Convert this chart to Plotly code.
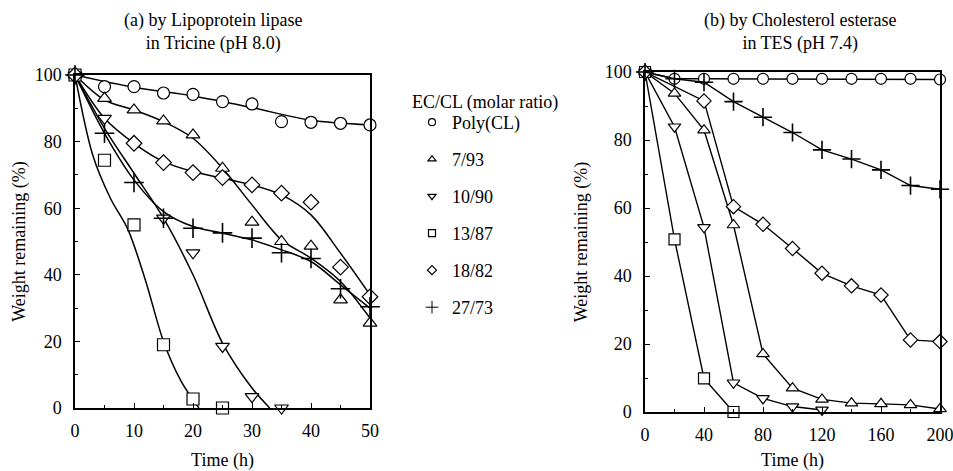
import plotly.graph_objects as go

# ---------------- Panel (a): Lipoprotein lipase, Tricine pH 8.0 ----------------
a_t_poly = [0, 5, 10, 15, 20, 25, 30, 35, 40, 45, 50]
a_w_poly = [100, 96.5, 96.5, 94.6, 94.2, 92, 91.3, 86, 85.8, 85.5, 85]
a_t_793 = [0, 5, 10, 15, 20, 25, 30, 35, 40, 45, 50]
a_w_793 = [100, 93, 89.5, 86.2, 82, 72, 55.8, 50, 48.6, 32.5, 25.5]
a_t_1090 = [0, 5, 15, 20, 25, 30, 35]
a_w_1090 = [100, 87, 57, 46.6, 18.5, 3.4, 0]
a_t_1387 = [0, 5, 10, 15, 20, 25]
a_w_1387 = [100, 74.4, 55, 19, 2.7, 0]
a_t_1882 = [0, 10, 15, 20, 25, 30, 35, 40, 45, 50]
a_w_1882 = [100, 79.5, 73.7, 70.7, 69.2, 67, 64.5, 61.8, 42.3, 33.4]
a_t_2773 = [0, 5, 10, 15, 20, 25, 30, 35, 40, 45, 50]
a_w_2773 = [100, 82.5, 67.7, 57, 54, 52.6, 51, 46.6, 44.9, 35.8, 30.4]

# fitted curves in panel (a)
fit_t_poly = [0, 10, 20, 30, 40, 50]
fit_w_poly = [100, 96.3, 93.7, 90.2, 86.4, 85]
fit_t_793 = [0, 5, 10, 15, 20, 25, 30, 35, 40, 45, 50]
fit_w_793 = [100, 92.5, 89.5, 86, 81, 72, 61, 50.5, 45, 38, 27]
fit_t_1090 = [0, 5, 10, 15, 20, 25, 30, 33]
fit_w_1090 = [100, 84, 70.5, 57, 40, 19.5, 6, 0]
fit_t_1387 = [0, 3, 6, 9, 12, 15, 18, 21]
fit_w_1387 = [100, 76, 63, 53.5, 38, 20, 8, 0]
fit_t_1882 = [0, 5, 10, 15, 20, 25, 30, 35, 40, 45, 50]
fit_w_1882 = [100, 87, 79.5, 74, 71, 69, 67, 64, 58, 46.5, 34]
fit_t_2773 = [0, 5, 10, 15, 20, 25, 30, 35, 40, 45, 50]
fit_w_2773 = [100, 82.5, 68.5, 59, 54.5, 52.5, 50.5, 47.5, 44, 37, 30]

# ---------------- Panel (b): Cholesterol esterase, TES pH 7.4 ----------------
b_t = [0, 20, 40, 60, 80, 100, 120, 140, 160, 180, 200]
b_w_poly = [100, 98, 98, 98, 98, 98, 98, 98, 98, 98, 97.8]
b_w_793 = [100, 93.7, 82.9, 55, 17.1, 7, 3.7, 2.6, 2.4, 2.1, 0.9]
b_t_1090 = [0, 20, 40, 60, 80, 100, 120]
b_w_1090 = [100, 83.9, 54.3, 8.6, 4, 1.6, 0.6]
b_t_1387 = [0, 20, 40, 60]
b_w_1387 = [100, 50.8, 9.9, 0]
b_t_1882 = [0, 40, 60, 80, 100, 120, 140, 160, 180, 200]
b_w_1882 = [100, 91.5, 60.4, 55.2, 48.1, 40.8, 37.1, 34.4, 21.2, 20.7]
b_w_2773 = [100, 98, 97, 91.3, 86.7, 82.2, 77.1, 74.4, 71.2, 66.6, 65.5]

series_names = ["Poly(CL)", "7/93", "10/90", "13/87", "18/82", "27/73"]
symbols = ["circle", "triangle-up", "triangle-down", "square", "diamond", "cross-thin"]
x_ticks_a = [0, 10, 20, 30, 40, 50]
x_ticks_b = [0, 40, 80, 120, 160, 200]
y_ticks = [0, 20, 40, 60, 80, 100]

FONT = "Liberation Serif"
BLACK = "black"

# the page body margin is removed (see post_script), so the figure fills the window
OFF = 0
W, H = 953 - OFF, 471 - OFF


def px(x):
    return (x - OFF) / W


def py(y):
    return 1 - (y - OFF) / H


fig = go.Figure()


def marker(sym, size, cross_w=1.6):
    if sym == "cross-thin":
        return dict(symbol=sym, size=size + 2, color=BLACK, line=dict(color=BLACK, width=cross_w))
    return dict(symbol=sym, size=size, color="white", line=dict(color=BLACK, width=1.2))


a_marks = [(a_t_poly, a_w_poly), (a_t_793, a_w_793), (a_t_1090, a_w_1090),
           (a_t_1387, a_w_1387), (a_t_1882, a_w_1882), (a_t_2773, a_w_2773)]
a_fits = [(fit_t_poly, fit_w_poly), (fit_t_793, fit_w_793), (fit_t_1090, fit_w_1090),
          (fit_t_1387, fit_w_1387), (fit_t_1882, fit_w_1882), (fit_t_2773, fit_w_2773)]
b_marks = [(b_t, b_w_poly), (b_t, b_w_793), (b_t_1090, b_w_1090),
           (b_t_1387, b_w_1387), (b_t_1882, b_w_1882), (b_t, b_w_2773)]

# panel (a) fitted curves
for (tx, wy) in a_fits:
    fig.add_trace(go.Scatter(x=tx, y=wy, mode="lines",
                             line=dict(color=BLACK, width=1.5, shape="spline", smoothing=0.9),
                             xaxis="x", yaxis="y", showlegend=False, hoverinfo="skip"))
# panel (a) markers
for (tx, wy), sym in zip(a_marks, symbols):
    fig.add_trace(go.Scatter(x=tx, y=wy, mode="markers", marker=marker(sym, 12),
                             xaxis="x", yaxis="y", showlegend=False, cliponaxis=False))
# panel (b) lines + markers
for (tx, wy), sym in zip(b_marks, symbols):
    fig.add_trace(go.Scatter(x=tx, y=wy, mode="lines+markers", marker=marker(sym, 11),
                             line=dict(color=BLACK, width=1.4),
                             xaxis="x2", yaxis="y2", showlegend=False, cliponaxis=False))
# legend entries (small symbols)
for name, sym in zip(series_names, symbols):
    fig.add_trace(go.Scatter(x=[None], y=[None], mode="markers", name=name,
                             marker=marker(sym, 7, cross_w=1.0),
                             legendgroup=name, xaxis="x", yaxis="y"))

axis_common = dict(showline=True, linecolor=BLACK, linewidth=1.5, mirror=True, ticks="inside",
                   ticklen=5, tickcolor=BLACK, tickwidth=1, showgrid=False, zeroline=False,
                   automargin=False, ticklabeloverflow="allow",
                   tickfont=dict(family=FONT, size=18, color=BLACK))
title_font = dict(family=FONT, size=18, color=BLACK)

fig.update_layout(
    width=W, height=H,
    margin=dict(l=0, r=0, t=0, b=0),
    paper_bgcolor="white", plot_bgcolor="white",
    font=dict(family=FONT, color=BLACK, size=18),
    xaxis=dict(domain=[px(75), px(370)], range=[0, 50], tickvals=x_ticks_a,
               title=dict(text="Time (h)", font=title_font, standoff=14), ticklabelstandoff=6,
               minor=dict(ticks="inside", ticklen=3, dtick=5, tickcolor=BLACK), anchor="y", **axis_common),
    yaxis=dict(domain=[py(408), py(75)], range=[0, 100], tickvals=y_ticks,
               title=dict(text="Weight remaining (%)", font=title_font, standoff=4), ticklabelstandoff=8,
               minor=dict(ticks="inside", ticklen=3, dtick=10, tickcolor=BLACK), anchor="x", **axis_common),
    xaxis2=dict(domain=[px(645), px(940)], range=[0, 200], tickvals=x_ticks_b,
                title=dict(text="Time (h)", font=title_font, standoff=10), ticklabelstandoff=6,
                minor=dict(ticks="inside", ticklen=3, dtick=20, tickcolor=BLACK), anchor="y2", **axis_common),
    yaxis2=dict(domain=[py(412), py(72)], range=[0, 100], tickvals=y_ticks,
                title=dict(text="Weight remaining (%)", font=title_font, standoff=12), ticklabelstandoff=8,
                minor=dict(ticks="inside", ticklen=3, dtick=10, tickcolor=BLACK), anchor="x2", **axis_common),
    legend=dict(x=px(412), y=py(104), xanchor="left", yanchor="top",
                font=dict(family=FONT, size=18), traceorder="grouped", tracegroupgap=10.6,
                itemsizing="trace", bgcolor="rgba(0,0,0,0)"),
    annotations=[
        dict(text="(a) by Lipoprotein lipase<br>in Tricine (pH 8.0)", x=px(213), y=py(32.5),
             xref="paper", yref="paper", xanchor="center", yanchor="middle", showarrow=False,
             font=dict(family=FONT, size=18)),
        dict(text="(b) by Cholesterol esterase<br>in TES (pH 7.4)", x=px(800), y=py(32.5),
             xref="paper", yref="paper", xanchor="center", yanchor="middle", showarrow=False,
             font=dict(family=FONT, size=18)),
        dict(text="EC/CL (molar ratio)", x=px(410), y=py(102.7),
             xref="paper", yref="paper", xanchor="left", yanchor="middle", showarrow=False,
             font=dict(family=FONT, size=18)),
    ],
)

fig.write_html("out.html", config={"displayModeBar": False},
               post_script="document.body.style.margin='0';document.body.style.overflow='hidden';")
